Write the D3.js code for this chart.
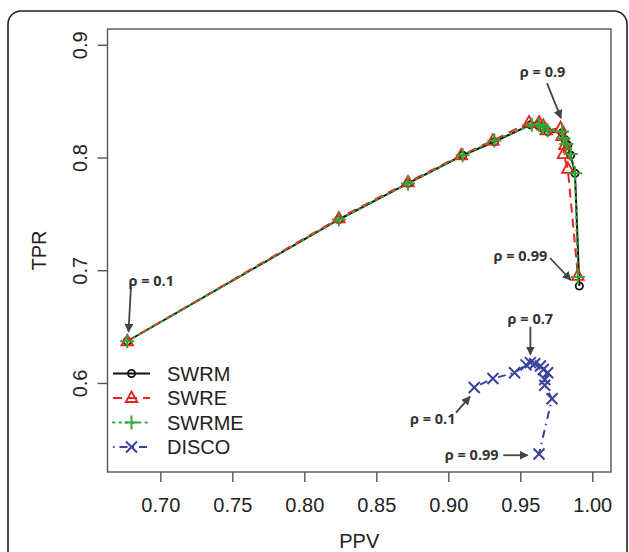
<!DOCTYPE html>
<html>
<head>
<meta charset="utf-8">
<script src="https://cdn.jsdelivr.net/npm/d3@7"></script>
<style>
  body { margin: 0; background: #fff; }
</style>
</head>
<body>
<div id="chart"></div>
<script>
// values
const seriesNames = ['SWRM', 'SWRE', 'SWRME', 'DISCO'];

const swrmPPV = [0.677, 0.824, 0.872, 0.910, 0.932, 0.957, 0.962, 0.966, 0.969, 0.979, 0.981, 0.983, 0.985, 0.988, 0.991];
const swrmTPR = [0.637, 0.745, 0.777, 0.802, 0.814, 0.829, 0.829, 0.826, 0.823, 0.822, 0.816, 0.811, 0.802, 0.786, 0.686];

const swrePPV = [0.677, 0.824, 0.872, 0.909, 0.931, 0.956, 0.963, 0.966, 0.968, 0.978, 0.979, 0.981, 0.980, 0.983, 0.990];
const swreTPR = [0.637, 0.746, 0.778, 0.802, 0.815, 0.831, 0.831, 0.828, 0.824, 0.826, 0.819, 0.811, 0.803, 0.790, 0.695];

const swrmePPV = [0.677, 0.824, 0.872, 0.910, 0.932, 0.958, 0.963, 0.966, 0.969, 0.979, 0.980, 0.982, 0.985, 0.988, 0.990];
const swrmeTPR = [0.637, 0.745, 0.777, 0.802, 0.815, 0.829, 0.829, 0.827, 0.824, 0.823, 0.817, 0.812, 0.803, 0.786, 0.694];

const discoPPV = [0.918, 0.931, 0.946, 0.954, 0.957, 0.960, 0.964, 0.966, 0.969, 0.967, 0.967, 0.972, 0.963];
const discoTPR = [0.596, 0.604, 0.609, 0.616, 0.618, 0.617, 0.615, 0.612, 0.609, 0.603, 0.598, 0.586, 0.537];

const xTicks = [0.70, 0.75, 0.80, 0.85, 0.90, 0.95, 1.00];
const yTicks = [0.6, 0.7, 0.8, 0.9];

const width = 629;
const height = 552;
const margin = { top: 29, right: 18, bottom: 80, left: 107.5 };

const svg = d3.select('#chart').append('svg').attr('width', width).attr('height', height)
  .attr('font-family', 'Liberation Sans, Arial, sans-serif');

// outer frame
svg.append('rect')
  .attr('x', 8).attr('y', 11).attr('width', 619).attr('height', 600)
  .attr('rx', 13).attr('fill', 'none').attr('stroke', '#222').attr('stroke-width', 1.6);

const x = d3.scaleLinear().domain([0.6633, 1.013]).range([margin.left, width - margin.right]);
const y = d3.scaleLinear().domain([0.521, 0.914]).range([height - margin.bottom, margin.top]);

const series = [
  { name: seriesNames[0], ppv: swrmPPV, tpr: swrmTPR, color: '#111', dash: null, mark: 'circle' },
  { name: seriesNames[1], ppv: swrePPV, tpr: swreTPR, color: '#e8231f', dash: '9,6', mark: 'triangle' },
  { name: seriesNames[2], ppv: swrmePPV, tpr: swrmeTPR, color: '#2fa836', dash: '1.5,5', mark: 'plus' },
  { name: seriesNames[3], ppv: discoPPV, tpr: discoTPR, color: '#3a41a0', dash: '1.5,5,8,5', mark: 'x' }
];

function drawMark(g, type, color) {
  if (type === 'circle') {
    g.append('circle').attr('r', 3.6).attr('fill', 'none').attr('stroke', color).attr('stroke-width', 1.8);
  } else if (type === 'triangle') {
    g.append('path').attr('d', 'M0,-6.5L5.8,4L-5.8,4Z').attr('fill', 'none').attr('stroke', color).attr('stroke-width', 1.8);
  } else if (type === 'plus') {
    g.append('path').attr('d', 'M-7,0H7M0,-7V7').attr('stroke', color).attr('stroke-width', 2);
  } else {
    g.append('path').attr('d', 'M-5.5,-5.5L5.5,5.5M-5.5,5.5L5.5,-5.5').attr('stroke', color).attr('stroke-width', 2);
  }
}

const line = d3.line().x((d) => x(d[0])).y((d) => y(d[1]));

const plot = svg.append('g');
series.forEach((s) => {
  const pts = s.ppv.map((p, i) => [p, s.tpr[i]]);
  plot.append('path')
    .attr('d', line(pts))
    .attr('fill', 'none')
    .attr('stroke', s.color)
    .attr('stroke-width', 2)
    .attr('stroke-linecap', s.mark === 'plus' ? 'round' : 'butt')
    .attr('stroke-dasharray', s.dash);
  pts.forEach((d) => {
    const g = plot.append('g').attr('transform', `translate(${x(d[0])},${y(d[1])})`);
    drawMark(g, s.mark, s.color);
  });
});

// plot box
svg.append('rect')
  .attr('x', margin.left).attr('y', margin.top)
  .attr('width', width - margin.right - margin.left)
  .attr('height', height - margin.bottom - margin.top)
  .attr('fill', 'none').attr('stroke', '#555').attr('stroke-width', 1.4);

// axes
const xAxis = svg.append('g')
  .attr('transform', `translate(0,${height - margin.bottom})`)
  .call(d3.axisBottom(x).tickValues(xTicks).tickFormat(d3.format('.2f')).tickSize(10).tickPadding(16));
const yAxis = svg.append('g')
  .attr('transform', `translate(${margin.left},0)`)
  .call(d3.axisLeft(y).tickValues(yTicks).tickFormat(d3.format('.1f')).tickSize(10));

[xAxis, yAxis].forEach((a) => {
  a.select('.domain').remove();
  a.selectAll('line').attr('stroke', '#555').attr('stroke-width', 1.4);
  a.selectAll('text').attr('font-size', 20).attr('fill', '#222').attr('font-family', 'Liberation Sans, Arial, sans-serif');
});

yAxis.selectAll('.tick text')
  .attr('x', null).attr('dy', null)
  .attr('text-anchor', 'middle')
  .attr('transform', 'translate(-28,0) rotate(-90)')
  .attr('dy', '0.35em');

svg.append('text')
  .attr('x', (margin.left + width - margin.right) / 2).attr('y', 541)
  .attr('text-anchor', 'middle').attr('dy', '0.35em')
  .attr('font-size', 20).attr('fill', '#222').text('PPV');

svg.append('text')
  .attr('transform', `translate(39,${(margin.top + height - margin.bottom) / 2}) rotate(-90)`)
  .attr('text-anchor', 'middle').attr('dy', '0.35em')
  .attr('font-size', 20).attr('fill', '#222').text('TPR');

// legend
const legend = svg.append('g').attr('transform', 'translate(113,373.5)');
series.forEach((s, i) => {
  const row = legend.append('g').attr('transform', `translate(0,${i * 24.5})`);
  row.append('line').attr('x1', 0).attr('x2', 37)
    .attr('stroke', s.color).attr('stroke-width', 2)
    .attr('stroke-linecap', s.mark === 'plus' ? 'round' : 'butt')
    .attr('stroke-dasharray', s.dash);
  drawMark(row.append('g').attr('transform', 'translate(18.5,0)'), s.mark, s.color);
  row.append('text').attr('x', 54).attr('dy', '0.35em')
    .attr('font-size', 20).attr('fill', '#222').text(s.name);
});

// annotations anchored on data points
const annotations = [
  { label: 'ρ = 0.1', s: 0, i: 0, tx: 24, ty: -60, a: [3.7, -54, 1.3, -9.5] },
  { label: 'ρ = 0.9', s: 1, i: 9, tx: -18, ty: -56.5, a: [-13.6, -45, 0.4, -10] },
  { label: 'ρ = 0.99', s: 0, i: 14, tx: -59, ty: -30, a: [-29.3, -28, -8.6, -6] },
  { label: 'ρ = 0.7', s: 3, i: 4, tx: 0, ty: -43.7, a: [0, -36, 0, -8] },
  { label: 'ρ = 0.1', s: 3, i: 0, tx: -41.5, ty: 31, a: [-18.2, 25.2, -4.2, 9.2] },
  { label: 'ρ = 0.99', s: 3, i: 12, tx: -67.3, ty: 1.3, a: [-35.7, 1.3, -11.3, 1.3] }
];

svg.append('defs').append('marker')
  .attr('id', 'arrow').attr('viewBox', '0 0 10 10')
  .attr('refX', 9).attr('refY', 5)
  .attr('markerWidth', 5).attr('markerHeight', 5)
  .attr('markerUnits', 'strokeWidth')
  .attr('orient', 'auto')
  .append('path').attr('d', 'M0,0L10,5L0,10Z').attr('fill', '#444');

annotations.forEach((n) => {
  const s = series[n.s];
  const px = x(s.ppv[n.i]);
  const py = y(s.tpr[n.i]);
  svg.append('line')
    .attr('x1', px + n.a[0]).attr('y1', py + n.a[1])
    .attr('x2', px + n.a[2]).attr('y2', py + n.a[3])
    .attr('stroke', '#444').attr('stroke-width', 1.8)
    .attr('marker-end', 'url(#arrow)');
  svg.append('text')
    .attr('x', px + n.tx).attr('y', py + n.ty)
    .attr('text-anchor', 'middle').attr('dy', '0.35em')
    .attr('font-family', 'Open Sans, sans-serif').attr('font-weight', 700)
    .attr('font-size', 14.5).attr('fill', '#333')
    .text(n.label);
});
</script>
</body>
</html>
